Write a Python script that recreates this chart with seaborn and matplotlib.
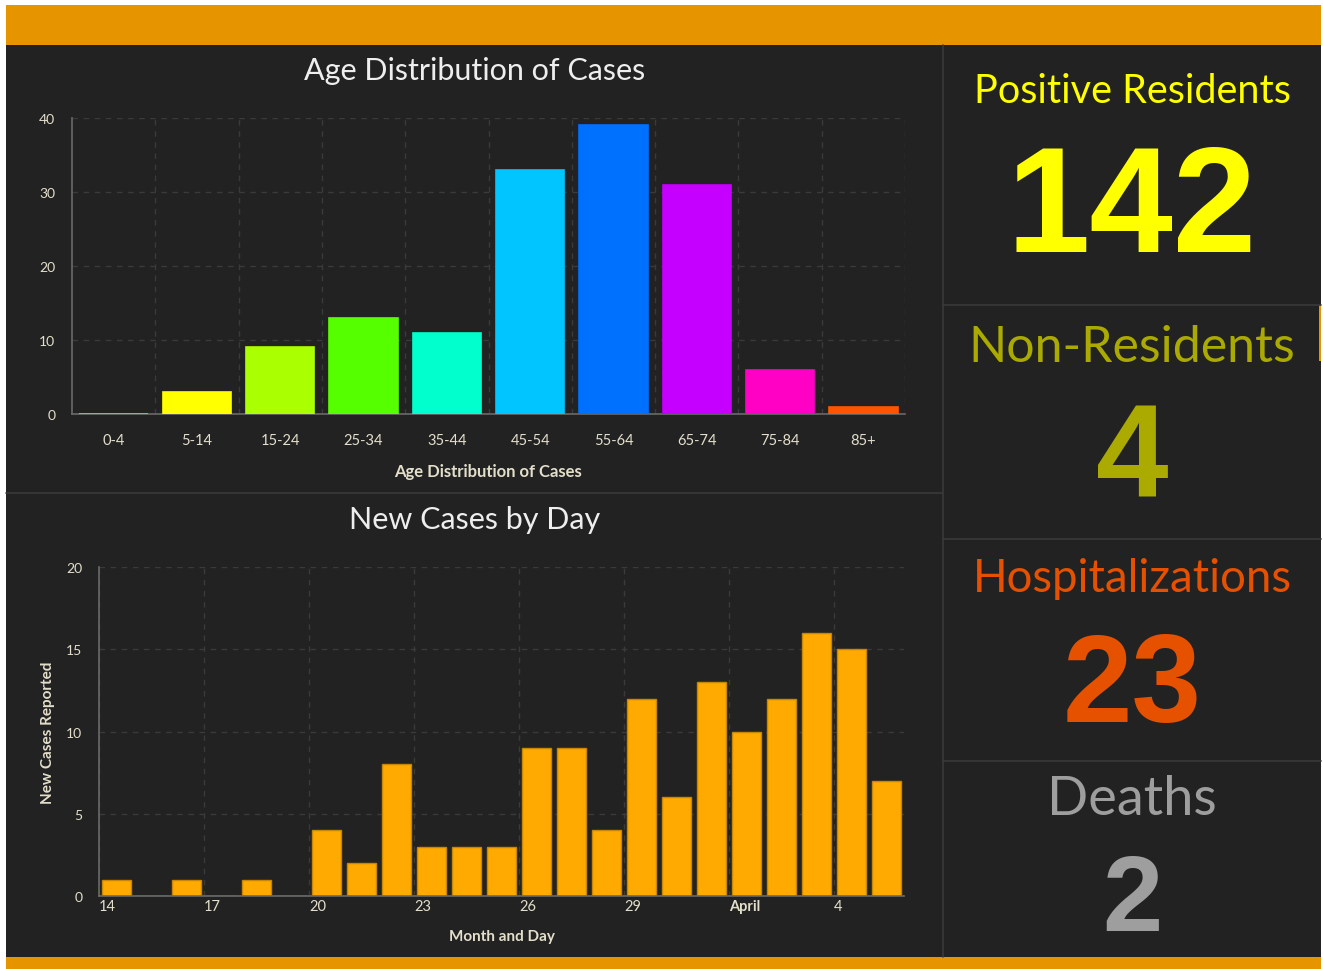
import numpy as np
import pandas as pd
import seaborn as sns
import matplotlib.pyplot as plt
from matplotlib.patches import Rectangle
from matplotlib.transforms import ScaledTranslation

# ---- data ----
age_groups = ['0-4', '5-14', '15-24', '25-34', '35-44', '45-54', '55-64', '65-74', '75-84', '85+']
age_counts = [0, 3, 9, 13, 11, 33, 39, 31, 6, 1]
age_colors = ['#ffaa00', '#ffff00', '#aaff00', '#55ff00', '#00ffcc',
              '#00c5ff', '#0070ff', '#c500ff', '#ff00c5', '#ff5500']

# March 14 - April 5
day_labels = ['14', '15', '16', '17', '18', '19', '20', '21', '22', '23', '24', '25',
              '26', '27', '28', '29', '30', '31', '1', '2', '3', '4', '5']
new_cases = [1, 0, 1, 0, 1, 0, 4, 2, 8, 3, 3, 3, 9, 9, 4, 12, 6, 13, 10, 12, 16, 15, 7]
tick_labels = ['14', '17', '20', '23', '26', '29', 'April', '4']

stat_titles = ['Positive Residents', 'Non-Residents', 'Hospitalizations', 'Deaths']
stat_values = ['142', '4', '23', '2']
stat_colors = ['#ffff00', '#aaaa00', '#e65100', '#9e9e9e']

W, H = 1323, 970
BG = '#222222'
ORANGE = '#e69500'
TXT = '#e4dfcb'
LINE = '#3a3a3a'

sns.set_style('dark')
plt.rcParams['font.family'] = ['Lato', 'DejaVu Sans']

fig = plt.figure(figsize=(W / 100, H / 100), dpi=100, facecolor='white')

# background panel drawn in pixel coords
bg = fig.add_axes([0, 0, 1, 1])
bg.set_xlim(0, W)
bg.set_ylim(H, 0)
bg.axis('off')
bg.add_patch(Rectangle((6, 45), 1315, 913, color=BG, lw=0))
bg.add_patch(Rectangle((6, 6), 1315, 40, color=ORANGE, lw=0))
bg.add_patch(Rectangle((6, 958), 1315, 12, color=ORANGE, lw=0))
bg.plot([943, 943], [46, 958], color=LINE, lw=1.2)
bg.plot([6, 943], [494, 494], color=LINE, lw=1.2)
for yy in [306, 540, 762]:
    bg.plot([943, 1321], [yy, yy], color=LINE, lw=1.2)
bg.add_patch(Rectangle((1319, 306), 2, 56, color=ORANGE, lw=0))

# stat panels (baselines in pixels)
title_y = [103, 362, 592, 815]
title_size = [28.5, 36, 32.8, 39]
value_y = [252, 498, 722, 931]
value_size = [108, 94, 90, 78]
for t, v, c, ty, ts, vy, vs in zip(stat_titles, stat_values, stat_colors,
                                    title_y, title_size, value_y, value_size):
    bg.text(1132, ty, t, color=c, fontsize=ts, ha='center', va='baseline')
    bg.text(1132, vy, v, color=c, fontsize=vs, ha='center', va='baseline',
            family='Liberation Sans', fontweight='bold')


def px_axes(l, t, r, b):
    return fig.add_axes([l / W, 1 - b / H, (r - l) / W, (b - t) / H])


def style_axes(ax):
    ax.set_facecolor('none')
    for s in ['top', 'right']:
        ax.spines[s].set_visible(False)
    for s in ['left', 'bottom']:
        ax.spines[s].set_color('#6a6a6a')
        ax.spines[s].set_linewidth(1.2)
    ax.tick_params(colors='#6a6a6a', labelcolor=TXT, labelsize=10, width=1)
    ax.grid(True, axis='y', color=LINE, ls=(0, (4, 4)), lw=1)


# ---- age distribution ----
ax1 = px_axes(72, 119, 905, 415)
age_df = pd.DataFrame({'age': age_groups, 'count': age_counts})
sns.barplot(data=age_df, x='age', y='count', hue='age', palette=age_colors,
            legend=False, width=0.82, ax=ax1, saturation=1, linewidth=1.2)
for p, c in zip(ax1.patches, age_colors):
    p.set_edgecolor(c)
    p.set_zorder(3)
style_axes(ax1)
ax1.set_xlim(-0.5, 9.5)
ax1.set_ylim(0, 40)
ax1.set_yticks([0, 10, 20, 30, 40])
ax1.set_xticks(np.arange(len(age_groups)) + 0.5, minor=True)
ax1.grid(True, axis='x', which='minor', color=LINE, ls=(0, (4, 4)), lw=1)
ax1.tick_params(axis='x', which='major', length=4, pad=10, labelsize=10.5)
ax1.tick_params(axis='x', which='minor', length=0)
ax1.tick_params(axis='y', length=6, pad=6)
ax1.set_ylabel('')
ax1.set_xlabel('Age Distribution of Cases', color=TXT, fontsize=12, fontweight='bold')
ax1.xaxis.set_label_coords((488 - 72) / 833, -(472 - 415) / 296)
ax1.xaxis.label.set_va('center')
ax1.text((475 - 72) / 833, (415 - 71) / 296, 'Age Distribution of Cases', transform=ax1.transAxes,
         color='#eeeeee', fontsize=22, ha='center', va='center')

# ---- new cases by day ----
ax2 = px_axes(99, 568, 904, 897)
day_df = pd.DataFrame({'pos': np.arange(len(new_cases)) + 0.5, 'cases': new_cases, 'day': day_labels})
sns.barplot(data=day_df, x='pos', y='cases', native_scale=True, color='#ffaa00',
            width=0.85, ax=ax2, saturation=1, edgecolor='#c98600', linewidth=1)
style_axes(ax2)
ax2.set_xlim(0, 23)
ax2.set_ylim(0, 20)
ax2.set_yticks([0, 5, 10, 15, 20])
ax2.set_xticks(np.arange(0, 22, 3))
ax2.set_xticklabels(tick_labels, ha='left')
for lab in ax2.get_xticklabels():
    lab.set_transform(lab.get_transform() + ScaledTranslation(2 / 72, 0, fig.dpi_scale_trans))
    if lab.get_text() == 'April':
        lab.set_fontweight('bold')
ax2.grid(True, axis='x', color=LINE, ls=(0, (4, 4)), lw=1)
ax2.tick_params(axis='x', length=5, pad=-3, labelsize=10.5)
ax2.tick_params(axis='y', length=6, pad=6)
ax2.set_xlabel('Month and Day', color=TXT, fontsize=11, fontweight='bold')
ax2.xaxis.set_label_coords((502 - 99) / 805, -(937 - 897) / 329)
ax2.xaxis.label.set_va('center')
ax2.set_ylabel('New Cases Reported', color=TXT, fontsize=11, fontweight='bold')
ax2.yaxis.set_label_coords((48 - 99) / 805, 0.5)
ax2.yaxis.label.set_va('center')
ax2.text((475 - 99) / 805, (897 - 520) / 329, 'New Cases by Day', transform=ax2.transAxes,
         color='#eeeeee', fontsize=22, ha='center', va='center')

fig.savefig('out.png', dpi=100, facecolor='white')
